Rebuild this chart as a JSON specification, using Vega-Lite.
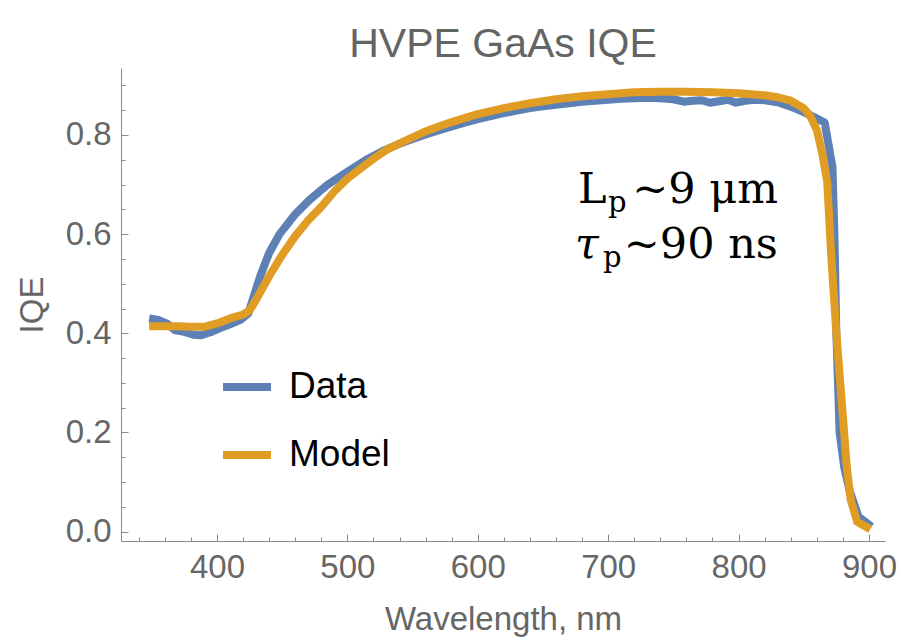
{
  "$schema": "https://vega.github.io/schema/vega-lite/v6.json",
  "autosize": {"type": "none"},
  "padding": {"left": 121, "top": 68, "right": 16, "bottom": 99},
  "width": 764,
  "height": 473,
  "background": "white",
  "title": {
    "text": "HVPE GaAs IQE",
    "font": "Liberation Sans",
    "fontSize": 41,
    "fontWeight": "normal",
    "color": "#646464",
    "anchor": "middle",
    "frame": "group",
    "baseline": "alphabetic",
    "offset": -30
  },
  "config": {
    "view": {"stroke": null},
    "axis": {
      "labelFont": "Liberation Sans",
      "titleFont": "Liberation Sans",
      "labelColor": "#666666",
      "titleColor": "#666666",
      "domainColor": "#8a8a8a",
      "tickColor": "#8a8a8a",
      "grid": false
    }
  },
  "datasets": {
    "curves": [
      {"series": "Data", "wl": 348, "iqe": 0.430},
      {"series": "Data", "wl": 355, "iqe": 0.427},
      {"series": "Data", "wl": 362, "iqe": 0.419},
      {"series": "Data", "wl": 368, "iqe": 0.406},
      {"series": "Data", "wl": 375, "iqe": 0.403},
      {"series": "Data", "wl": 382, "iqe": 0.397},
      {"series": "Data", "wl": 388, "iqe": 0.396},
      {"series": "Data", "wl": 395, "iqe": 0.402},
      {"series": "Data", "wl": 402, "iqe": 0.410},
      {"series": "Data", "wl": 410, "iqe": 0.418},
      {"series": "Data", "wl": 418, "iqe": 0.427},
      {"series": "Data", "wl": 424, "iqe": 0.440},
      {"series": "Data", "wl": 433, "iqe": 0.514},
      {"series": "Data", "wl": 440, "iqe": 0.562},
      {"series": "Data", "wl": 448, "iqe": 0.600},
      {"series": "Data", "wl": 460, "iqe": 0.640},
      {"series": "Data", "wl": 471, "iqe": 0.669},
      {"series": "Data", "wl": 485, "iqe": 0.700},
      {"series": "Data", "wl": 502, "iqe": 0.729},
      {"series": "Data", "wl": 515, "iqe": 0.751},
      {"series": "Data", "wl": 529, "iqe": 0.770},
      {"series": "Data", "wl": 540, "iqe": 0.782},
      {"series": "Data", "wl": 550, "iqe": 0.792},
      {"series": "Data", "wl": 560, "iqe": 0.801},
      {"series": "Data", "wl": 570, "iqe": 0.809},
      {"series": "Data", "wl": 580, "iqe": 0.817},
      {"series": "Data", "wl": 590, "iqe": 0.825},
      {"series": "Data", "wl": 600, "iqe": 0.832},
      {"series": "Data", "wl": 610, "iqe": 0.838},
      {"series": "Data", "wl": 620, "iqe": 0.844},
      {"series": "Data", "wl": 630, "iqe": 0.849},
      {"series": "Data", "wl": 640, "iqe": 0.854},
      {"series": "Data", "wl": 650, "iqe": 0.858},
      {"series": "Data", "wl": 660, "iqe": 0.861},
      {"series": "Data", "wl": 670, "iqe": 0.864},
      {"series": "Data", "wl": 680, "iqe": 0.867},
      {"series": "Data", "wl": 690, "iqe": 0.869},
      {"series": "Data", "wl": 700, "iqe": 0.871},
      {"series": "Data", "wl": 710, "iqe": 0.873},
      {"series": "Data", "wl": 720, "iqe": 0.874},
      {"series": "Data", "wl": 730, "iqe": 0.875},
      {"series": "Data", "wl": 740, "iqe": 0.874},
      {"series": "Data", "wl": 750, "iqe": 0.872},
      {"series": "Data", "wl": 758, "iqe": 0.867},
      {"series": "Data", "wl": 765, "iqe": 0.869},
      {"series": "Data", "wl": 772, "iqe": 0.870},
      {"series": "Data", "wl": 778, "iqe": 0.865},
      {"series": "Data", "wl": 785, "iqe": 0.868},
      {"series": "Data", "wl": 792, "iqe": 0.871},
      {"series": "Data", "wl": 798, "iqe": 0.865},
      {"series": "Data", "wl": 805, "iqe": 0.869},
      {"series": "Data", "wl": 812, "iqe": 0.871},
      {"series": "Data", "wl": 820, "iqe": 0.870},
      {"series": "Data", "wl": 830, "iqe": 0.866},
      {"series": "Data", "wl": 840, "iqe": 0.857},
      {"series": "Data", "wl": 850, "iqe": 0.846},
      {"series": "Data", "wl": 858, "iqe": 0.836},
      {"series": "Data", "wl": 866, "iqe": 0.825},
      {"series": "Data", "wl": 872, "iqe": 0.736},
      {"series": "Data", "wl": 873.5, "iqe": 0.600},
      {"series": "Data", "wl": 875, "iqe": 0.400},
      {"series": "Data", "wl": 877.5, "iqe": 0.200},
      {"series": "Data", "wl": 881, "iqe": 0.130},
      {"series": "Data", "wl": 885, "iqe": 0.084},
      {"series": "Data", "wl": 892, "iqe": 0.030},
      {"series": "Data", "wl": 902, "iqe": 0.010},
      {"series": "Model", "wl": 348, "iqe": 0.414},
      {"series": "Model", "wl": 360, "iqe": 0.414},
      {"series": "Model", "wl": 370, "iqe": 0.414},
      {"series": "Model", "wl": 380, "iqe": 0.413},
      {"series": "Model", "wl": 390, "iqe": 0.413},
      {"series": "Model", "wl": 400, "iqe": 0.420},
      {"series": "Model", "wl": 410, "iqe": 0.430},
      {"series": "Model", "wl": 420, "iqe": 0.438},
      {"series": "Model", "wl": 425, "iqe": 0.446},
      {"series": "Model", "wl": 430, "iqe": 0.468},
      {"series": "Model", "wl": 440, "iqe": 0.515},
      {"series": "Model", "wl": 450, "iqe": 0.558},
      {"series": "Model", "wl": 460, "iqe": 0.596},
      {"series": "Model", "wl": 470, "iqe": 0.628},
      {"series": "Model", "wl": 480, "iqe": 0.655},
      {"series": "Model", "wl": 490, "iqe": 0.686},
      {"series": "Model", "wl": 500, "iqe": 0.712},
      {"series": "Model", "wl": 510, "iqe": 0.732},
      {"series": "Model", "wl": 520, "iqe": 0.752},
      {"series": "Model", "wl": 530, "iqe": 0.770},
      {"series": "Model", "wl": 540, "iqe": 0.783},
      {"series": "Model", "wl": 550, "iqe": 0.795},
      {"series": "Model", "wl": 560, "iqe": 0.807},
      {"series": "Model", "wl": 570, "iqe": 0.817},
      {"series": "Model", "wl": 580, "iqe": 0.826},
      {"series": "Model", "wl": 590, "iqe": 0.834},
      {"series": "Model", "wl": 600, "iqe": 0.842},
      {"series": "Model", "wl": 610, "iqe": 0.848},
      {"series": "Model", "wl": 620, "iqe": 0.854},
      {"series": "Model", "wl": 630, "iqe": 0.859},
      {"series": "Model", "wl": 640, "iqe": 0.864},
      {"series": "Model", "wl": 650, "iqe": 0.868},
      {"series": "Model", "wl": 660, "iqe": 0.872},
      {"series": "Model", "wl": 670, "iqe": 0.875},
      {"series": "Model", "wl": 680, "iqe": 0.878},
      {"series": "Model", "wl": 690, "iqe": 0.880},
      {"series": "Model", "wl": 700, "iqe": 0.882},
      {"series": "Model", "wl": 720, "iqe": 0.886},
      {"series": "Model", "wl": 740, "iqe": 0.887},
      {"series": "Model", "wl": 760, "iqe": 0.887},
      {"series": "Model", "wl": 780, "iqe": 0.886},
      {"series": "Model", "wl": 800, "iqe": 0.884},
      {"series": "Model", "wl": 820, "iqe": 0.880},
      {"series": "Model", "wl": 830, "iqe": 0.876},
      {"series": "Model", "wl": 840, "iqe": 0.869},
      {"series": "Model", "wl": 850, "iqe": 0.854},
      {"series": "Model", "wl": 855, "iqe": 0.838},
      {"series": "Model", "wl": 860, "iqe": 0.810},
      {"series": "Model", "wl": 864, "iqe": 0.765},
      {"series": "Model", "wl": 868, "iqe": 0.705},
      {"series": "Model", "wl": 871, "iqe": 0.560},
      {"series": "Model", "wl": 875, "iqe": 0.400},
      {"series": "Model", "wl": 879, "iqe": 0.266},
      {"series": "Model", "wl": 883, "iqe": 0.131},
      {"series": "Model", "wl": 886, "iqe": 0.064},
      {"series": "Model", "wl": 891, "iqe": 0.020},
      {"series": "Model", "wl": 901, "iqe": 0.005}
    ],
    "notes": [
      {"part": "main", "t": "L", "wl": 676.9, "iqe": 0.663},
      {"part": "italic", "t": "τ", "wl": 674.6, "iqe": 0.552},
      {"part": "sub", "t": "p", "wl": 699.9, "iqe": 0.644},
      {"part": "sub", "t": "p", "wl": 696.0, "iqe": 0.534},
      {"part": "right", "t": "~9 μm", "wl": 830.2, "iqe": 0.663},
      {"part": "right", "t": "~90 ns", "wl": 830.2, "iqe": 0.552}
    ]
  },
  "resolve": {"axis": {"x": "independent", "y": "independent"}},
  "layer": [
    {
      "data": {"name": "curves"},
      "mark": {"type": "line", "strokeWidth": 8, "strokeJoin": "round"},
      "encoding": {
        "x": {
          "field": "wl", "type": "quantitative",
          "scale": {"domain": [326.4, 912.3], "nice": false, "zero": false},
          "axis": {
            "orient": "bottom",
            "values": [400, 500, 600, 700, 800, 900],
            "tickSize": -7,
            "labelPadding": 17,
            "labelFontSize": 33,
            "title": "Wavelength, nm",
            "titleFontSize": 33,
            "titleFontWeight": "normal",
            "titlePadding": 19
          }
        },
        "y": {
          "field": "iqe", "type": "quantitative",
          "scale": {"domain": [-0.0188, 0.935], "nice": false, "zero": false},
          "axis": {
            "orient": "left",
            "values": [0, 0.2, 0.4, 0.6, 0.8],
            "format": ".1f",
            "tickSize": -7,
            "labelPadding": 17,
            "labelFontSize": 33,
            "title": "IQE",
            "titleFontSize": 33,
            "titleFontWeight": "normal",
            "titlePadding": 16
          }
        },
        "color": {
          "field": "series", "type": "nominal",
          "scale": {"domain": ["Data", "Model"], "range": ["#5E81B5", "#E19C24"]},
          "legend": {
            "orient": "none",
            "legendX": 98,
            "legendY": 291,
            "title": null,
            "padding": 0,
            "symbolType": "stroke",
            "symbolSize": 2304,
            "symbolStrokeWidth": 8,
            "labelFont": "Liberation Sans",
            "labelFontSize": 37,
            "labelColor": "#000000",
            "labelOffset": 14,
            "rowPadding": 22
          }
        }
      }
    },
    {
      "data": {"name": "curves"},
      "mark": {"type": "point", "opacity": 0},
      "encoding": {
        "x": {
          "field": "wl", "type": "quantitative",
          "scale": {"domain": [326.4, 912.3], "nice": false, "zero": false},
          "axis": {
            "orient": "bottom",
            "values": [340, 360, 380, 420, 440, 460, 480, 520, 540, 560, 580, 620, 640, 660, 680, 720, 740, 760, 780, 820, 840, 860, 880],
            "tickSize": -4,
            "labels": false,
            "domain": false,
            "title": null
          }
        },
        "y": {
          "field": "iqe", "type": "quantitative",
          "scale": {"domain": [-0.0188, 0.935], "nice": false, "zero": false},
          "axis": {
            "orient": "left",
            "values": [0.05, 0.1, 0.15, 0.25, 0.3, 0.35, 0.45, 0.5, 0.55, 0.65, 0.7, 0.75, 0.85, 0.9],
            "tickSize": -4,
            "labels": false,
            "domain": false,
            "title": null
          }
        }
      }
    },
    {
      "data": {"name": "notes"},
      "transform": [{"filter": "datum.part === 'main'"}],
      "mark": {"type": "text", "font": "DejaVu Serif", "fontSize": 43, "align": "left", "baseline": "alphabetic", "color": "#000000"},
      "encoding": {
        "x": {"field": "wl", "type": "quantitative", "scale": {"domain": [326.4, 912.3], "nice": false, "zero": false}, "axis": null},
        "y": {"field": "iqe", "type": "quantitative", "scale": {"domain": [-0.0188, 0.935], "nice": false, "zero": false}, "axis": null},
        "text": {"field": "t"}
      }
    },
    {
      "data": {"name": "notes"},
      "transform": [{"filter": "datum.part === 'italic'"}],
      "mark": {"type": "text", "font": "DejaVu Serif", "fontSize": 43, "fontStyle": "italic", "align": "left", "baseline": "alphabetic", "color": "#000000"},
      "encoding": {
        "x": {"field": "wl", "type": "quantitative", "scale": {"domain": [326.4, 912.3], "nice": false, "zero": false}, "axis": null},
        "y": {"field": "iqe", "type": "quantitative", "scale": {"domain": [-0.0188, 0.935], "nice": false, "zero": false}, "axis": null},
        "text": {"field": "t"}
      }
    },
    {
      "data": {"name": "notes"},
      "transform": [{"filter": "datum.part === 'sub'"}],
      "mark": {"type": "text", "font": "DejaVu Serif", "fontSize": 29, "align": "left", "baseline": "alphabetic", "color": "#000000"},
      "encoding": {
        "x": {"field": "wl", "type": "quantitative", "scale": {"domain": [326.4, 912.3], "nice": false, "zero": false}, "axis": null},
        "y": {"field": "iqe", "type": "quantitative", "scale": {"domain": [-0.0188, 0.935], "nice": false, "zero": false}, "axis": null},
        "text": {"field": "t"}
      }
    },
    {
      "data": {"name": "notes"},
      "transform": [{"filter": "datum.part === 'right'"}],
      "mark": {"type": "text", "font": "DejaVu Serif", "fontSize": 43, "align": "right", "baseline": "alphabetic", "color": "#000000"},
      "encoding": {
        "x": {"field": "wl", "type": "quantitative", "scale": {"domain": [326.4, 912.3], "nice": false, "zero": false}, "axis": null},
        "y": {"field": "iqe", "type": "quantitative", "scale": {"domain": [-0.0188, 0.935], "nice": false, "zero": false}, "axis": null},
        "text": {"field": "t"}
      }
    }
  ]
}
